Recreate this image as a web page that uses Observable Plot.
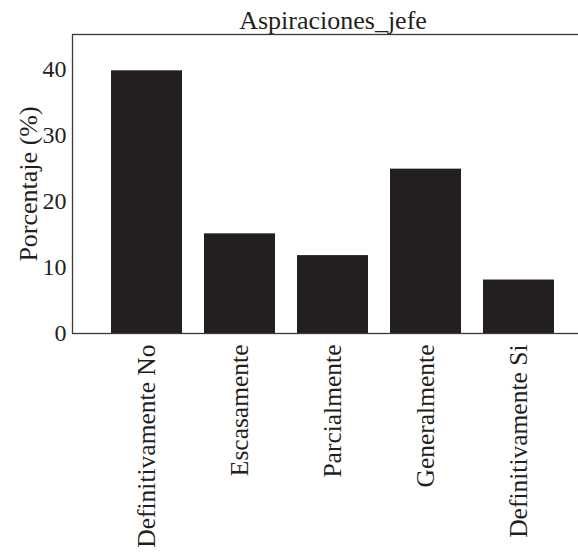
<!DOCTYPE html>
<html>
<head>
<meta charset="utf-8">
<script src="https://cdn.jsdelivr.net/npm/d3@7"></script>
<script src="https://cdn.jsdelivr.net/npm/@observablehq/plot@0.6"></script>
<style>
  html, body { margin: 0; padding: 0; background: #fff; overflow: hidden; width: 578px; height: 558px; }
  #chart { width: 578px; height: 558px; overflow: hidden; }
  #chart svg { display: block; max-width: none !important; width: 600px !important; height: 558px !important; }
  #chart svg, #chart svg text { font-family: "Liberation Serif", "DejaVu Serif", serif !important; }
</style>
</head>
<body>
<div id="chart"></div>
<script>
const title = "Aspiraciones_jefe";
const yLabel = "Porcentaje (%)";
const categories = ["Definitivamente No", "Escasamente", "Parcialmente", "Generalmente", "Definitivamente Si"];
const values = [39.8, 15.1, 11.8, 24.9, 8.1];
const yTicks = [0, 10, 20, 30, 40];

const data = categories.map((c, i) => ({category: c, value: values[i]}));

const ink = "#231f20";

const chart = Plot.plot({
  width: 600,
  height: 558,
  marginTop: 34,
  marginLeft: 72,
  marginRight: 7,
  marginBottom: 225,
  style: {fontSize: "24px", color: ink, background: "#fff", maxWidth: "none"},
  x: {domain: categories, paddingInner: 0.234, paddingOuter: 0.394},
  y: {domain: [0, 45.3]},
  marks: [
    Plot.barY(data, {x: "category", y: "value", fill: ink}),
    Plot.frame({stroke: "#3a3a3a", strokeWidth: 1.3}),
    Plot.axisY({
      ticks: yTicks, tickSize: 0, tickPadding: 6, fontSize: 24, label: null
    }),
    Plot.axisY({
      ticks: [], tickSize: 0, fontSize: 26,
      label: yLabel, labelAnchor: "center", labelArrow: "none", labelOffset: 54
    }),
    Plot.axisX({
      tickSize: 0, tickPadding: 11, tickRotate: -90, fontSize: 25.5, label: null
    }),
    Plot.text([title], {frameAnchor: "top", lineAnchor: "bottom", dy: -6, fontSize: 26, fill: ink})
  ]
});
document.getElementById("chart").appendChild(chart);
</script>
</body>
</html>
